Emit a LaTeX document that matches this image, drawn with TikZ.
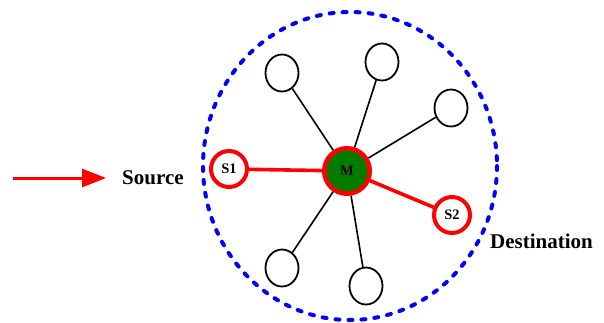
\documentclass[tikz,border=0pt]{standalone}
\usepackage{fontspec}
\setmainfont{Liberation Serif}
\usetikzlibrary{arrows.meta,shapes.geometric}
\definecolor{mgreen}{RGB}{0,125,0}
\definecolor{dblue}{RGB}{0,0,255}
\definecolor{lred}{RGB}{255,0,0}
\tikzset{
  peer/.style={draw=black, line width=1.8pt, ellipse, minimum width=33pt, minimum height=37pt, inner sep=0pt, fill=white},
  endpt/.style={draw=lred, line width=4pt, circle, minimum size=36pt, inner sep=0pt, fill=white, font=\fontsize{14.5}{14.5}\selectfont\bfseries},
  hub/.style={draw=lred, line width=4.5pt, circle, minimum size=45.5pt, inner sep=0pt, fill=mgreen, font=\fontsize{14.5}{14.5}\selectfont\bfseries},
  link/.style={black, line width=1.6pt},
  redlink/.style={lred, line width=3.6pt},
  caption/.style={font=\fontsize{21}{21}\selectfont\bfseries, inner sep=0pt},
  zone/.style={dblue, line width=4pt, dash pattern=on 4pt off 9pt, line cap=round}
}
\begin{document}
\begin{tikzpicture}[x=1pt, y=-1pt]
  \useasboundingbox (0,0) rectangle (604,322);
  % network boundary
  \draw[zone] (350,166) ellipse [x radius=147, y radius=154];
  % nodes
  \node[hub] (m) at (347,171) {M};
  \node[endpt] (s1) at (229,169) {S1};
  \node[endpt] (s2) at (452,215) {S2};
  \node[peer] (p1) at (282,73) {};
  \node[peer] (p2) at (382,62) {};
  \node[peer] (p3) at (451,108) {};
  \node[peer] (p4) at (282,268) {};
  \node[peer] (p5) at (366,286) {};
  % links from the hub
  \draw[link] (m) -- (p1);
  \draw[link] (m) -- (p2);
  \draw[link] (m) -- (p3);
  \draw[link] (m) -- (p4);
  \draw[link] (m) -- (p5);
  \draw[redlink] (m) -- (s1);
  \draw[redlink] (m) -- (s2);
  % legend arrow and captions
  \coordinate (a0) at (13,178);
  \coordinate (a1) at (106,178);
  \draw[lred, line width=3pt, -{Triangle[length=24pt,width=18pt]}] (a0) -- (a1);
  \node[caption, anchor=base west] (src) at (122,184) {Source};
  \node[caption, anchor=base west] (dst) at (490,248) {Destination};
\end{tikzpicture}
\end{document}
